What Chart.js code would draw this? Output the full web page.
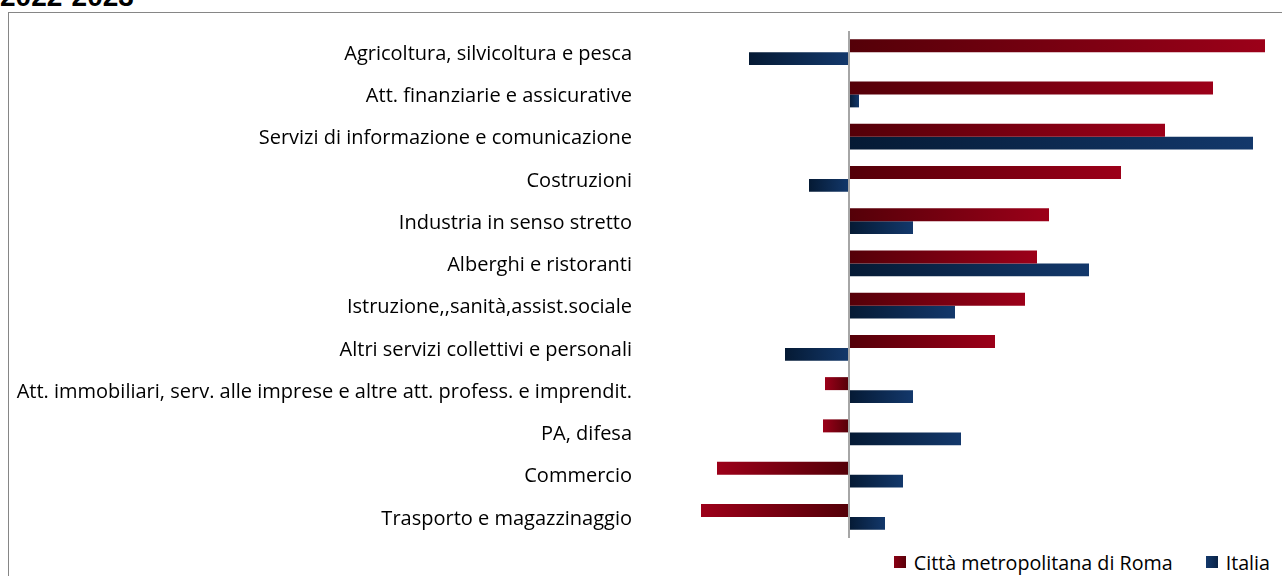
<!DOCTYPE html>
<html>
<head>
<meta charset="utf-8">
<script src="https://cdn.jsdelivr.net/npm/chart.js@4.4.1/dist/chart.umd.min.js"></script>
<style>
  html, body { margin: 0; padding: 0; background: #fff; overflow: hidden; }
  #titolo {
    position: absolute; left: 0; top: -19px; line-height: 28px;
    font: bold 28px "Liberation Sans", Arial, sans-serif; color: #000;
  }
  #riquadro {
    position: absolute; left: 8px; top: 12px; width: 1280px; height: 580px;
    border: 1px solid #868686; box-sizing: border-box;
  }
  #wrap { position: absolute; left: 9px; top: 13px; width: 1294px; height: 525px; }
  #legenda {
    position: absolute; right: 12px; top: 549px; height: 26px;
    display: flex; align-items: center; gap: 33px;
    font: 19.7px "Open Sans", sans-serif; color: #000;
  }
  #legenda .voce { display: flex; align-items: center; gap: 8px; }
  #legenda .box { width: 12px; height: 12px; }
</style>
</head>
<body>
<div id="titolo">2022-2023</div>
<div id="riquadro"></div>
<div id="wrap"><canvas id="grafico"></canvas></div>
<div id="legenda"></div>
<script>
// settori (dall'alto in basso)
const settori = [
  "Agricoltura, silvicoltura e pesca",
  "Att. finanziarie e assicurative",
  "Servizi di informazione e comunicazione",
  "Costruzioni",
  "Industria in senso stretto",
  "Alberghi e ristoranti",
  "Istruzione,,sanità,assist.sociale",
  "Altri servizi collettivi e personali",
  "Att. immobiliari, serv. alle imprese e altre att. profess. e imprendit.",
  "PA, difesa",
  "Commercio",
  "Trasporto e magazzinaggio"
];

// variazioni %
const roma =   [10.4, 9.1, 7.9, 6.8, 5.0, 4.7, 4.4, 3.65, -0.6, -0.65, -3.3, -3.7];
const italia = [-2.5, 0.25, 10.1, -1.0, 1.6, 6.0, 2.65, -1.6, 1.6, 2.8, 1.35, 0.9];

const nomiSerie = ["Città metropolitana di Roma", "Italia"];

// gradiente: scuro vicino allo zero, chiaro verso la fine della barra (rosso)
function coloreRosso(ctx) {
  if (ctx.type !== "data") return "#7a0010";
  const chart = ctx.chart;
  const sx = chart.scales.x;
  if (!sx || !chart.chartArea) return "#7a0010";
  const x0 = sx.getPixelForValue(0);
  const x1 = sx.getPixelForValue(ctx.raw);
  if (Math.abs(x1 - x0) < 1) return "#560008";
  const g = chart.ctx.createLinearGradient(x0, 0, x1, 0);
  g.addColorStop(0, "#540008");
  g.addColorStop(1, "#9c0019");
  return g;
}

// blu: da sinistra (scuro) a destra (chiaro)
function coloreBlu(ctx) {
  if (ctx.type !== "data") return "#0d2a52";
  const chart = ctx.chart;
  const sx = chart.scales.x;
  if (!sx || !chart.chartArea) return "#0d2a52";
  const x0 = sx.getPixelForValue(0);
  const x1 = sx.getPixelForValue(ctx.raw);
  const a = Math.min(x0, x1), b = Math.max(x0, x1);
  if (b - a < 1) return "#0d2a52";
  const g = chart.ctx.createLinearGradient(a, 0, b, 0);
  g.addColorStop(0, "#051a34");
  g.addColorStop(1, "#13386b");
  return g;
}

// legenda in basso a destra
const coloriLegenda = ["linear-gradient(to right, #8a0014, #5a0009)", "linear-gradient(to right, #13386b, #0a2347)"];
document.getElementById("legenda").innerHTML = nomiSerie
  .map((n, i) => `<div class="voce"><div class="box" style="background:${coloriLegenda[i]}"></div><span>${n}</span></div>`)
  .join("");

const ctx = document.getElementById("grafico");

new Chart(ctx, {
  type: "bar",
  data: {
    labels: settori,
    datasets: [
      { label: nomiSerie[0], data: roma, backgroundColor: coloreRosso },
      { label: nomiSerie[1], data: italia, backgroundColor: coloreBlu }
    ]
  },
  options: {
    indexAxis: "y",
    responsive: true,
    maintainAspectRatio: false,
    animation: false,
    categoryPercentage: 0.615,
    barPercentage: 1,
    layout: { padding: { top: 18, right: 0, left: 0, bottom: 0 } },
    scales: {
      x: {
        min: -4.975,
        max: 11.35,
        afterBuildTicks: (scale) => { scale.ticks = [{ value: 0 }]; },
        ticks: { display: false },
        grid: { color: "#a6a6a6", lineWidth: 2, drawTicks: false },
        border: { display: false }
      },
      y: {
        afterFit: (scale) => {
          scale.width = 641;
          // niente spazio extra sopra/sotto per le etichette
          scale.paddingTop = 0;
          scale.paddingBottom = 0;
        },
        ticks: {
          color: "#000",
          padding: 18,
          labelOffset: 2,
          font: { family: "'Open Sans', sans-serif", size: 20 }
        },
        grid: { display: false, drawTicks: false },
        border: { display: false }
      }
    },
    plugins: {
      legend: { display: false },
      tooltip: { enabled: false }
    }
  }
});
</script>
</body>
</html>
